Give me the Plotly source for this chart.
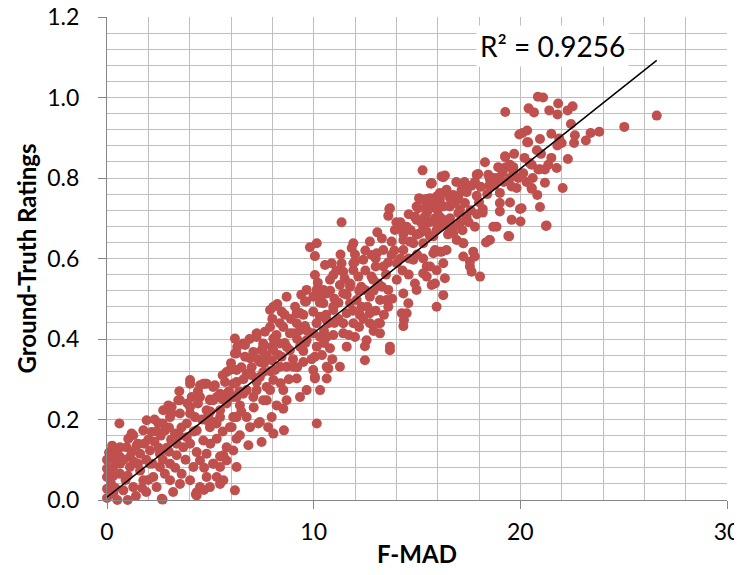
import plotly.graph_objects as go

# ---------------- data ----------------
fmad_upper = [
    20.85, 21.1, 20.4, 20.66, 21.4, 21.83, 21.8, 22.29, 22.53, 22.45,
    26.6, 25.03, 23.82, 23.4, 23.17, 22.6, 22.64, 21.88, 22.0, 21.79,
    20.95, 20.33, 20.1, 20.33, 20.8, 22.3, 21.5, 21.76, 21.35, 21.19,
    20.87, 20.55, 20.14, 21.19, 22.05, 20.55, 20.82, 20.95, 20.06, 19.27,
    19.95, 15.27, 16.19, 16.35, 15.67, 18.29, 17.89, 18.45, 18.93, 19.27,
    19.3, 19.66, 21.27, 20.01, 19.46, 19.58, 19.01, 18.5, 18.69, 17.72,
    17.56, 18.05, 17.8, 18.18, 18.08, 18.5, 17.64, 17.16, 16.75, 15.95,
    15.47, 14.98, 14.9, 15.38, 16.11, 16.59, 17.32, 17.0, 17.4, 16.51,
    15.95, 15.14, 14.5, 14.34, 14.82, 15.3, 15.79, 16.19, 17.24, 14.82,
    15.63, 17.64, 16.35, 20.38, 19.26, 19.5, 19.14, 19.66, 17.96, 20.46,
    20.95, 20.55, 21.24, 19.42, 19.98, 19.5, 19.01, 19.82, 19.58, 18.77,
    18.53, 19.01, 18.85, 18.53, 18.34, 17.56, 17.24, 18.18, 17.89, 18.53,
    17.4, 17.16, 16.35, 16.11, 15.63, 15.3, 15.47, 15.87, 16.84, 17.08,
    16.27, 15.87, 15.3, 16.11, 16.75, 15.63, 16.92, 16.11, 17.8, 17.24,
    15.47, 16.27, 15.7,
]
rating_upper = [
    1.002, 1.0, 0.973, 0.963, 0.968, 0.985, 0.958, 0.968, 0.978, 0.934,
    0.955, 0.927, 0.915, 0.912, 0.893, 0.887, 0.906, 0.898, 0.887, 0.881,
    0.897, 0.918, 0.912, 0.889, 0.869, 0.847, 0.85, 0.825, 0.833, 0.821,
    0.821, 0.833, 0.812, 0.788, 0.775, 0.773, 0.758, 0.728, 0.725, 0.964,
    0.908, 0.819, 0.804, 0.806, 0.786, 0.839, 0.808, 0.808, 0.827, 0.852,
    0.827, 0.827, 0.682, 0.692, 0.655, 0.696, 0.717, 0.646, 0.679, 0.617,
    0.592, 0.555, 0.679, 0.714, 0.778, 0.781, 0.781, 0.767, 0.758, 0.754,
    0.748, 0.729, 0.703, 0.704, 0.703, 0.729, 0.738, 0.713, 0.704, 0.679,
    0.671, 0.663, 0.679, 0.646, 0.638, 0.638, 0.613, 0.617, 0.638, 0.597,
    0.58, 0.567, 0.551, 0.889, 0.854, 0.833, 0.814, 0.816, 0.81, 0.837,
    0.822, 0.775, 0.681, 0.656, 0.723, 0.739, 0.738, 0.775, 0.779, 0.783,
    0.779, 0.763, 0.679, 0.646, 0.64, 0.58, 0.638, 0.723, 0.756, 0.796,
    0.765, 0.771, 0.764, 0.748, 0.75, 0.746, 0.731, 0.733, 0.738, 0.721,
    0.696, 0.7, 0.679, 0.678, 0.663, 0.655, 0.646, 0.617, 0.605, 0.605,
    0.58, 0.802, 0.787,
]

fmad_mid = [
    11.35, 13.69, 13.61, 13.08, 11.92, 11.84, 9.82, 10.06, 10.06, 10.55,
    10.87, 11.35, 12.0, 12.72, 12.81, 13.37, 13.77, 13.77, 14.34, 13.93,
    14.34, 14.66, 14.98, 14.98, 15.06, 15.47, 15.71, 15.47, 15.79, 15.87,
    15.47, 15.71, 15.95, 14.9, 14.98, 14.58, 14.26, 14.37, 13.61, 13.61,
    13.21, 13.13, 12.48, 12.8, 12.16, 11.76, 11.27, 10.95, 11.43, 11.92,
    10.47, 9.98, 10.47, 10.95, 9.58, 9.5, 9.98, 9.58, 10.14, 10.71,
    11.6, 11.76, 12.32, 12.24, 12.72, 12.72, 13.21, 13.21, 11.92, 11.43,
    10.95, 10.31, 9.66, 12.0, 12.48, 13.69, 14.34, 14.5, 15.95,
]
rating_mid = [
    0.69, 0.725, 0.706, 0.665, 0.638, 0.626, 0.628, 0.606, 0.559, 0.584,
    0.588, 0.588, 0.592, 0.642, 0.609, 0.621, 0.642, 0.609, 0.621, 0.671,
    0.661, 0.642, 0.659, 0.696, 0.725, 0.713, 0.733, 0.667, 0.655, 0.621,
    0.555, 0.534, 0.48, 0.538, 0.522, 0.489, 0.464, 0.447, 0.48, 0.522,
    0.497, 0.538, 0.522, 0.555, 0.555, 0.538, 0.534, 0.559, 0.567, 0.571,
    0.522, 0.505, 0.489, 0.472, 0.493, 0.46, 0.468, 0.432, 0.439, 0.439,
    0.464, 0.489, 0.48, 0.46, 0.464, 0.439, 0.439, 0.414, 0.439, 0.414,
    0.41, 0.405, 0.397, 0.405, 0.382, 0.381, 0.432, 0.464, 0.571,
]

fmad_lowmid = [
    8.24, 7.89, 9.63, 8.37, 7.64, 6.19, 6.59, 6.19, 7.08, 7.48,
    7.97, 8.37, 8.85, 9.18, 9.34, 10.3, 10.39, 9.98, 10.63, 10.79,
    10.15, 9.34, 8.85, 8.45, 7.97, 7.4, 6.92, 5.95, 5.71, 6.27,
    6.92, 7.56, 8.13, 8.69, 9.18, 9.5, 9.98, 10.63, 10.71, 10.06,
    10.31, 9.66, 9.34, 8.53, 7.73, 7.24, 7.08, 6.59, 6.11, 5.47,
    4.98, 4.74, 5.22, 5.79, 6.43, 7.73, 8.21, 8.53, 7.97, 7.4,
    6.76, 6.11, 5.47, 4.82, 5.14, 10.15,
]
rating_lowmid = [
    0.487, 0.472, 0.493, 0.439, 0.418, 0.401, 0.389, 0.364, 0.368, 0.372,
    0.381, 0.389, 0.414, 0.439, 0.464, 0.455, 0.509, 0.414, 0.405, 0.377,
    0.381, 0.381, 0.372, 0.356, 0.347, 0.343, 0.352, 0.323, 0.293, 0.293,
    0.314, 0.318, 0.323, 0.331, 0.302, 0.343, 0.323, 0.302, 0.327, 0.302,
    0.273, 0.273, 0.256, 0.273, 0.281, 0.293, 0.256, 0.264, 0.256, 0.264,
    0.248, 0.289, 0.285, 0.24, 0.235, 0.248, 0.235, 0.227, 0.206, 0.194,
    0.206, 0.206, 0.223, 0.223, 0.194, 0.19,
]

fmad_low = [
    0.6, 1.19, 1.03, 0.15, 2.16, 2.48, 2.97, 3.45, 2.81, 3.29,
    4.02, 4.5, 5.31, 4.9, 5.47, 6.27, 5.95, 6.27, 5.79, 5.31,
    4.98, 4.34, 3.86, 4.66, 4.34, 4.82, 5.14, 5.79, 6.27, 5.31,
    5.63, 6.19, 4.82, 4.18, 4.5, 4.34, 3.61, 3.53, 3.05, 2.65,
    2.4, 2.24, 1.76, 1.27, 0.79, 0.31, 0.0, 0.0, 0.0, 0.31,
    0.63, 1.11, 1.6, 2.08, 2.56, 3.05, 0.63, 1.11, 1.6, 2.08,
    2.56, 0.95, 1.44, 0.63, 3.37, 3.69, 3.37, 4.02, 4.5, 4.02,
    4.98, 5.47, 3.86, 4.26, 3.53, 3.13, 4.82, 5.0, 4.02, 4.02,
    4.66, 5.14, 6.11, 5.79, 5.63, 6.11, 6.27, 2.69, 0.1, 4.3,
    4.69, 5.47, 6.43, 6.84, 7.48, 8.05, 8.56, 7.8, 7.32, 6.03,
    5.47, 5.14, 1.27, 3.05, 3.53, 4.02, 4.82, 5.14, 5.79, 6.27,
    6.76, 6.68, 6.68, 6.27, 5.79, 4.5, 4.1, 3.13, 2.72, 1.92,
    1.76, 0.63, 7.56, 7.89, 8.05, 8.69, 8.05, 9.18, 7.89, 7.24,
    7.56, 8.05, 9.02, 9.02, 8.37, 7.4, 7.24, 6.76, 6.92, 4.34,
]
rating_low = [
    0.19, 0.165, 0.152, 0.119, 0.169, 0.191, 0.235, 0.248, 0.173, 0.165,
    0.215, 0.256, 0.256, 0.21, 0.206, 0.256, 0.181, 0.152, 0.131, 0.152,
    0.181, 0.173, 0.156, 0.148, 0.119, 0.115, 0.09, 0.098, 0.082, 0.057,
    0.049, 0.024, 0.057, 0.082, 0.032, 0.011, 0.065, 0.04, 0.049, 0.003,
    0.032, 0.057, 0.049, 0.032, 0.024, 0.015, 0.028, 0.057, 0.078, 0.082,
    0.065, 0.082, 0.073, 0.09, 0.082, 0.09, 0.107, 0.107, 0.115, 0.123,
    0.115, 0.131, 0.136, 0.09, 0.111, 0.131, 0.14, 0.14, 0.098, 0.049,
    0.032, 0.082, 0.19, 0.206, 0.215, 0.215, 0.198, 0.25, 0.231, 0.289,
    0.289, 0.281, 0.289, 0.248, 0.111, 0.123, 0.206, 0.001, 0.118, 0.014,
    0.025, 0.04, 0.161, 0.136, 0.144, 0.165, 0.173, 0.181, 0.19, 0.181,
    0.108, 0.09, 0.161, 0.206, 0.248, 0.298, 0.289, 0.248, 0.264, 0.323,
    0.314, 0.356, 0.385, 0.364, 0.318, 0.285, 0.256, 0.231, 0.223, 0.198,
    0.173, 0.131, 0.248, 0.273, 0.298, 0.248, 0.48, 0.464, 0.43, 0.414,
    0.389, 0.372, 0.414, 0.331, 0.331, 0.306, 0.273, 0.273, 0.181, 0.019,
]

fmad_center = [
    13.66, 14.34, 14.9, 15.71, 16.11, 16.43, 15.55, 16.19, 16.43, 16.27,
    15.87, 16.27, 15.3, 14.34, 13.53, 13.13, 12.56, 13.69, 12.48, 11.6,
    11.27, 10.63, 10.06, 10.06, 8.45, 9.34, 10.15, 10.79, 11.92, 12.4,
    13.05, 13.37, 14.02, 14.02, 12.88, 11.76, 11.43, 12.08, 12.72, 10.95,
    10.63, 10.15, 9.66, 8.69, 8.53, 9.34, 10.63, 11.43, 7.56, 7.24,
    8.05,
]
rating_center = [
    0.723, 0.675, 0.704, 0.787, 0.763, 0.771, 0.721, 0.696, 0.621, 0.588,
    0.538, 0.509, 0.563, 0.513, 0.497, 0.439, 0.397, 0.372, 0.347, 0.381,
    0.331, 0.331, 0.306, 0.356, 0.468, 0.464, 0.638, 0.547, 0.588, 0.597,
    0.613, 0.58, 0.588, 0.547, 0.547, 0.53, 0.513, 0.497, 0.505, 0.48,
    0.513, 0.522, 0.522, 0.505, 0.43, 0.422, 0.447, 0.439, 0.381, 0.405,
    0.401,
]

fmad_dense = [
    0.0, 0.2, 0.5, 0.9, 1.4, 1.9, 0.4, 1.3, 1.9, 2.3,
    2.9, 2.8, 3.2, 1.8, 0.25, 1.5, 2.0, 2.6, 3.0, 3.6,
    2.3, 2.7, 3.9, 3.5, 4.4, 8.9, 8.6, 9.5, 9.0, 8.2,
    7.0, 7.7, 9.7, 9.9, 10.4, 10.9, 8.8, 6.5, 6.0, 5.6,
    11.0, 11.5, 12.3, 12.5, 13.0, 13.5, 13.8, 14.3, 14.6, 12.0,
    11.3, 12.5, 13.3, 14.0, 14.6, 12.2, 11.2, 13.0, 11.7, 10.5,
    16.6, 17.1, 17.6, 18.0, 18.4, 17.3, 16.9, 18.9, 16.0, 16.7,
]
rating_dense = [
    0.005, 0.04, 0.0, 0.05, 0.01, 0.02, 0.1, 0.095, 0.1, 0.145,
    0.13, 0.065, 0.02, 0.14, 0.135, 0.14, 0.15, 0.16, 0.18, 0.18,
    0.2, 0.19, 0.24, 0.27, 0.24, 0.45, 0.39, 0.37, 0.35, 0.41,
    0.33, 0.36, 0.42, 0.35, 0.36, 0.35, 0.3, 0.33, 0.34, 0.31,
    0.5, 0.55, 0.53, 0.57, 0.58, 0.56, 0.5, 0.57, 0.6, 0.61,
    0.61, 0.62, 0.65, 0.69, 0.71, 0.43, 0.45, 0.47, 0.41, 0.42,
    0.7, 0.69, 0.72, 0.74, 0.76, 0.79, 0.79, 0.8, 0.72, 0.74,
]

fmad_band = [
    0.0, 0.3, 0.5, 0.8, 1.0, 1.2, 1.5, 1.7, 0.4, 1.0,
    2.2, 2.5, 2.7, 3.0, 3.3, 3.5, 3.8, 3.1, 2.4, 2.0,
    4.2, 4.6, 5.0, 5.3, 5.6, 5.9, 4.4, 5.0, 5.6, 4.7,
    6.4, 6.6, 7.0, 7.3, 7.6, 7.9, 6.5, 7.1, 6.9, 6.3,
    8.3, 8.7, 9.2, 9.6, 8.0, 8.6, 9.1, 9.4, 8.4, 9.2,
    10.3, 10.6, 11.0, 11.2, 11.6, 11.9, 10.2, 10.8, 11.1, 10.5,
    12.2, 12.6, 12.9, 13.3, 13.6, 13.9, 12.4, 13.0, 13.4, 12.9,
    14.2, 14.6, 15.0, 15.3, 15.6, 15.2, 14.7, 15.9, 14.2, 15.1,
    16.3, 16.6, 17.0, 17.4, 17.8, 16.8, 17.5, 17.9, 17.2, 16.5,
    18.7, 19.2, 19.5, 19.9, 20.3, 20.6, 19.7, 20.2, 21.0, 21.5,
]
rating_band = [
    0.1, 0.06, 0.12, 0.1, 0.06, 0.12, 0.09, 0.03, 0.03, 0.0,
    0.09, 0.13, 0.1, 0.12, 0.08, 0.16, 0.1, 0.15, 0.17, 0.05,
    0.17, 0.2, 0.22, 0.19, 0.25, 0.27, 0.27, 0.14, 0.17, 0.08,
    0.27, 0.3, 0.31, 0.35, 0.34, 0.32, 0.22, 0.23, 0.4, 0.38,
    0.36, 0.38, 0.4, 0.39, 0.45, 0.46, 0.48, 0.51, 0.29, 0.33,
    0.49, 0.46, 0.44, 0.49, 0.51, 0.47, 0.54, 0.52, 0.57, 0.39,
    0.52, 0.48, 0.52, 0.53, 0.59, 0.62, 0.45, 0.6, 0.46, 0.42,
    0.6, 0.56, 0.61, 0.6, 0.69, 0.69, 0.67, 0.69, 0.69, 0.75,
    0.73, 0.75, 0.75, 0.77, 0.79, 0.68, 0.69, 0.71, 0.67, 0.66,
    0.8, 0.79, 0.8, 0.8, 0.79, 0.8, 0.86, 0.85, 0.86, 0.91,
]

fmad = fmad_upper + fmad_mid + fmad_lowmid + fmad_low + fmad_center + fmad_dense + fmad_band
ratings = (rating_upper + rating_mid + rating_lowmid + rating_low + rating_center
           + rating_dense + rating_band)

# linear trendline as shown (Excel), and its label
trend_slope = 0.0408
trend_intercept = 0.007
r2_label = "R\u00b2 = 0.9256"

x_title = "F-MAD"
y_title = "Ground-Truth Ratings"

# ---------------- figure ----------------
FONT = "Lato, 'Open Sans', sans-serif"
GRID = "#bfbfbf"
AXIS = "#868686"

fig = go.Figure()
fig.add_trace(go.Scatter(
    x=fmad, y=ratings, mode="markers",
    marker=dict(color="#C0504D", size=10, line=dict(width=0)),
    cliponaxis=False, showlegend=False, hoverinfo="skip",
))
x_end = max(fmad)
fig.add_trace(go.Scatter(
    x=[0, x_end], y=[trend_intercept, trend_intercept + trend_slope * x_end],
    mode="lines", line=dict(color="black", width=1.5),
    showlegend=False, hoverinfo="skip",
))

fig.add_annotation(
    x=21.58, y=1.127, xref="x", yref="y", text=r2_label, showarrow=False,
    font=dict(family=FONT, size=28, color="black"),
    bgcolor="white", borderpad=3, xanchor="center", yanchor="middle",
)

# page body keeps an 8px default margin, so the figure is 8px smaller each way
fig.update_layout(
    width=734, height=567,
    margin=dict(l=99, r=15, t=9, b=75, autoexpand=False),
    paper_bgcolor="white", plot_bgcolor="white",
    font=dict(family=FONT, color="black"),
    showlegend=False,
)
fig.update_xaxes(
    range=[0, 30], tickvals=[0, 10, 20, 30], ticks="outside", ticklen=8,
    tickcolor=AXIS, tickwidth=1.3,
    showgrid=True, gridcolor=GRID, gridwidth=1.3,
    minor=dict(dtick=2, showgrid=True, gridcolor=GRID, gridwidth=1.3, ticks=""),
    showline=True, linecolor=AXIS, linewidth=1.3, zeroline=False,
    tickfont=dict(size=23, family=FONT, color="black"),
    ticklabelstandoff=3, ticklabeloverflow="allow", automargin=False,
    title=dict(text="<b>" + x_title + "</b>", font=dict(size=24, family=FONT, color="black"), standoff=2),
    fixedrange=True,
)
fig.update_yaxes(
    range=[0, 1.2], tickvals=[0.0, 0.2, 0.4, 0.6, 0.8, 1.0, 1.2], tickformat=".1f",
    ticks="outside", ticklen=8, tickcolor=AXIS, tickwidth=1.3,
    showgrid=True, gridcolor=GRID, gridwidth=1.3,
    minor=dict(dtick=0.04, showgrid=True, gridcolor=GRID, gridwidth=1.3, ticks=""),
    showline=True, linecolor=AXIS, linewidth=1.3, zeroline=False,
    tickfont=dict(size=23, family=FONT, color="black"),
    ticklabelstandoff=14, ticklabeloverflow="allow", automargin=False,
    title=dict(text="<b>" + y_title + "</b>", font=dict(size=24, family=FONT, color="black"), standoff=3),
    fixedrange=True,
)

fig.write_html("out.html")
